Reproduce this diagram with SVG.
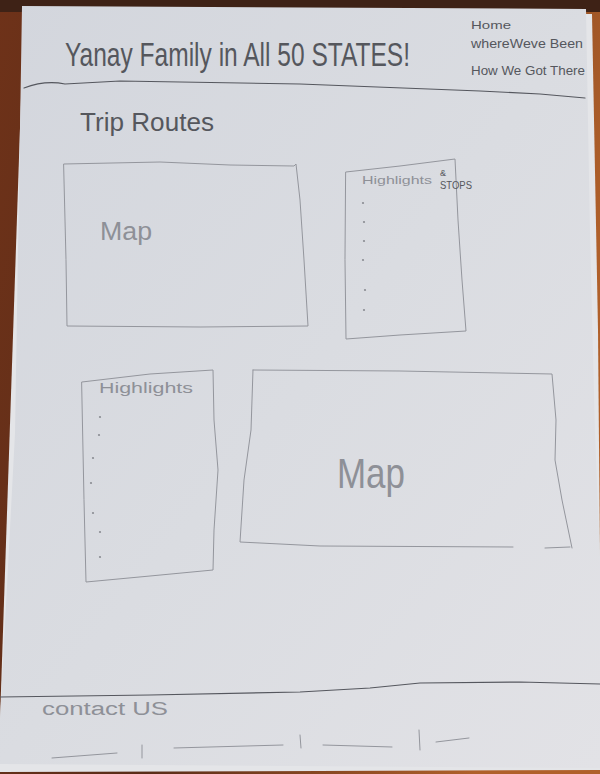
<svg xmlns="http://www.w3.org/2000/svg" width="600" height="774" viewBox="0 0 600 774">
  <defs>
    <linearGradient id="wood" x1="0" y1="0" x2="1" y2="0.3">
      <stop offset="0" stop-color="#6e3219"/>
      <stop offset="0.5" stop-color="#5a2c18"/>
      <stop offset="1" stop-color="#b0602a"/>
    </linearGradient>
    <linearGradient id="paper" x1="0" y1="0" x2="1" y2="1">
      <stop offset="0" stop-color="#d3d6dd"/>
      <stop offset="0.5" stop-color="#dadce1"/>
      <stop offset="1" stop-color="#e2e2e6"/>
    </linearGradient>
    <style>
      .pencil { fill: none; stroke: #94969d; stroke-width: 1; stroke-linecap: round; stroke-linejoin: round; }
      .dark { fill: none; stroke: #55575e; stroke-width: 1.2; stroke-linecap: round; }
      .hand { font-family: "Liberation Sans", "DejaVu Sans", sans-serif; fill: #55575d; }
      .faint { font-family: "Liberation Sans", "DejaVu Sans", sans-serif; fill: #8e9097; }
      .dot { fill: #8a8c93; }
    </style>
  </defs>

  <!-- table and sheets of paper -->
  <rect x="0" y="0" width="600" height="774" fill="url(#wood)"/>
  <rect x="0" y="0" width="600" height="12" fill="#3e2216"/>
  <polygon points="24,10 592,14 598,330 600,560 600,770 0,772 0,720" fill="#e4e5e8"/>
  <polygon points="22,6 586,9 590,233 595,433 600,560 600,768 0,764 0,720 15,433" fill="url(#paper)"/>

  <!-- header: tall, narrow title lettering -->
  <g id="header">
    <text class="hand" transform="translate(65,66) scale(1,1.42)" x="0" y="0" font-size="24" textLength="345" lengthAdjust="spacingAndGlyphs">Yanay Family in All 50 STATES!</text>
    <path class="dark" d="M24,88 Q45,80 65,84 L120,81 L300,84 L480,91 L540,94 L585,98"/>
  </g>

  <g id="nav">
    <text class="hand" x="471" y="29" font-size="11.5" textLength="40" lengthAdjust="spacingAndGlyphs">Home</text>
    <text class="hand" x="471" y="48" font-size="12.5" textLength="112" lengthAdjust="spacingAndGlyphs">whereWeve Been</text>
    <text class="hand" x="471" y="75" font-size="13.5" textLength="114" lengthAdjust="spacingAndGlyphs">How We Got There</text>
  </g>

  <g id="trip-routes">
    <text class="hand" x="80" y="131" font-size="26" textLength="134" lengthAdjust="spacingAndGlyphs">Trip Routes</text>
  </g>

  <!-- top map -->
  <g id="map-1">
    <path class="pencil" d="M64,164 L160,162 L230,165 L294,166 L296,164 L300,200 L304,260 L308,326 L200,327 L67,326 L66,260 Z"/>
    <text class="faint" x="100" y="240" font-size="26" textLength="52" lengthAdjust="spacingAndGlyphs">Map</text>
  </g>

  <!-- highlights and stops list -->
  <g id="highlights-stops">
    <path class="pencil" d="M346,172 L400,166 L455,159 L458,220 L462,280 L466,331 L400,335 L346,339 L345,260 Z"/>
    <text class="faint" x="362" y="184" font-size="11" textLength="70" lengthAdjust="spacingAndGlyphs">Highlights</text>
    <text class="hand" x="440" y="176" font-size="9">&amp;</text>
    <text class="hand" x="440" y="189" font-size="11" textLength="32" lengthAdjust="spacingAndGlyphs">STOPS</text>
    <circle class="dot" cx="363" cy="203" r="1.1"/>
    <circle class="dot" cx="364" cy="222" r="1.1"/>
    <circle class="dot" cx="364" cy="241" r="1.1"/>
    <circle class="dot" cx="363" cy="260" r="1.1"/>
    <circle class="dot" cx="365" cy="290" r="1.1"/>
    <circle class="dot" cx="364" cy="310" r="1.1"/>
  </g>

  <!-- highlights list -->
  <g id="highlights">
    <path class="pencil" d="M82,382 L150,374 L213,370 L214,420 L218,470 L214,530 L213,570 L150,576 L86,582 L84,500 Z"/>
    <text class="faint" x="99" y="393" font-size="15" textLength="94" lengthAdjust="spacingAndGlyphs">Highlights</text>
    <circle class="dot" cx="100" cy="417" r="1.1"/>
    <circle class="dot" cx="99" cy="435" r="1.1"/>
    <circle class="dot" cx="93" cy="458" r="1.1"/>
    <circle class="dot" cx="91" cy="483" r="1.1"/>
    <circle class="dot" cx="93" cy="513" r="1.1"/>
    <circle class="dot" cx="100" cy="532" r="1.1"/>
    <circle class="dot" cx="100" cy="557" r="1.1"/>
  </g>

  <!-- lower map -->
  <g id="map-2">
    <path class="pencil" d="M253,370 L400,371 L552,374 L556,420 L555,460 L562,500 L572,548"/>
    <path class="pencil" d="M253,370 L251,430 L244,480 L240,542 L320,546 L513,547"/>
    <path class="pencil" d="M545,548 L570,547"/>
    <text class="faint" transform="translate(337,488) scale(1,1.2)" x="0" y="0" font-size="35" textLength="68" lengthAdjust="spacingAndGlyphs">Map</text>
  </g>

  <!-- footer -->
  <g id="footer">
    <path class="dark" d="M0,697 L150,695 L300,692 L370,688 L420,683 L520,682 L600,684"/>
    <text class="faint" x="42" y="715" font-size="18" textLength="126" lengthAdjust="spacingAndGlyphs">contact US</text>
  </g>

  <g id="footer-links">
    <path class="pencil" d="M52,758 L117,753"/>
    <path class="pencil" d="M142,745 L142,758"/>
    <path class="pencil" d="M174,748 L283,745"/>
    <path class="pencil" d="M300,735 L301,748"/>
    <path class="pencil" d="M323,745 L392,747"/>
    <path class="pencil" d="M419,730 L420,750"/>
    <path class="pencil" d="M436,742 L469,738"/>
  </g>
</svg>
